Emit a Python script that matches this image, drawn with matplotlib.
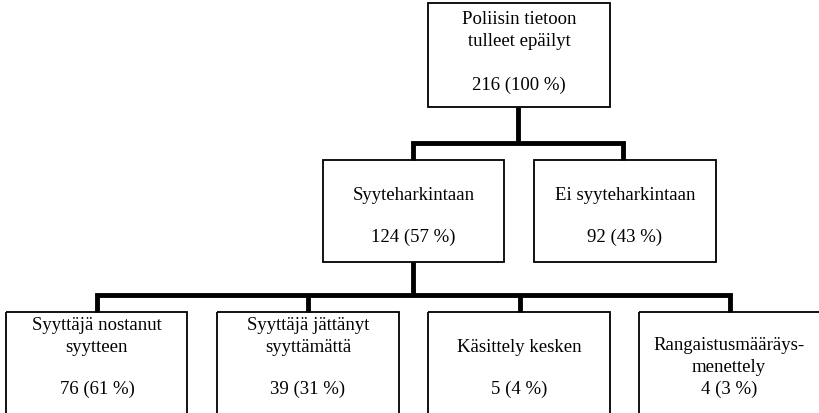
import matplotlib
matplotlib.use("Agg")
import matplotlib.pyplot as plt
from matplotlib.patches import Rectangle

# ---- data ----
root_label = "Poliisin tietoon\ntulleet epäilyt"
root_count = 216
root_pct = 100

level1_labels = ["Syyteharkintaan", "Ei syyteharkintaan"]
level1_counts = [124, 92]
level1_pcts = [57, 43]

level2_labels = ["Syyttäjä nostanut\nsyytteen", "Syyttäjä jättänyt\nsyyttämättä",
                 "Käsittely kesken", "Rangaistusmääräys-\nmenettely"]
level2_counts = [76, 39, 5, 4]
level2_pcts = [61, 31, 4, 3]

# ---- layout ----
W, H = 819, 413
fig = plt.figure(figsize=(W / 100, H / 100), dpi=100)
ax = fig.add_axes([0, 0, 1, 1])
ax.set_xlim(0, W)
ax.set_ylim(H, 0)
ax.axis("off")

FONT = dict(family="Liberation Serif", fontsize=13.5, color="black",
            ha="center", va="center")
BOX_LW = 1.3
CON_LW = 3.5


def box(x0, x1, y0, y1):
    ax.add_patch(Rectangle((x0, y0), x1 - x0, y1 - y0, fill=False,
                           edgecolor="black", lw=BOX_LW, zorder=3))


def seg(xs, ys):
    ax.plot(xs, ys, color="black", lw=CON_LW, solid_capstyle="butt",
            solid_joinstyle="miter", zorder=2)


# root
box(428, 610, 3, 107)
l1, l2 = root_label.split("\n")
ax.text(519, 19, l1, **FONT)
ax.text(519, 42, l2, **FONT)
ax.text(519, 85, f"{root_count} ({root_pct} %)", **FONT)

# level 1
l1_boxes = [(323, 504), (534, 716)]
l1_conn = [413, 623]
seg([518, 518], [107, 143])
seg([l1_conn[0], l1_conn[0], l1_conn[1], l1_conn[1]], [160, 143, 143, 160])
for (x0, x1), lab, c, p in zip(l1_boxes, level1_labels, level1_counts, level1_pcts):
    box(x0, x1, 160, 262)
    cx = (x0 + x1) / 2
    ax.text(cx, 195, lab, **FONT)
    ax.text(cx, 237, f"{c} ({p} %)", **FONT)

# level 2
l2_boxes = [(6, 187), (217, 399), (428, 610), (639, 830)]
l2_centers = [97, 308, 519, 729]
l2_conn = [97, 308, 520, 730]
seg([413, 413], [262, 295])
seg([l2_conn[0], l2_conn[0], l2_conn[-1], l2_conn[-1]], [312, 295, 295, 312])
for xc in l2_conn[1:-1]:
    seg([xc, xc], [295, 312])
for (x0, x1), cx, lab, c, p in zip(l2_boxes, l2_centers, level2_labels,
                                   level2_counts, level2_pcts):
    box(x0, x1, 312, 430)
    lines = lab.split("\n")
    if lab.startswith("Rangaistus"):
        ax.text(cx, 346, lines[0], **FONT)
        ax.text(cx, 367, lines[1], **FONT)
        ax.text(cx, 389, f"{c} ({p} %)", **FONT)
    elif len(lines) == 2:
        ax.text(cx, 325, lines[0], **FONT)
        ax.text(cx, 348, lines[1], **FONT)
        ax.text(cx, 389, f"{c} ({p} %)", **FONT)
    else:
        ax.text(cx, 347, lines[0], **FONT)
        ax.text(cx, 389, f"{c} ({p} %)", **FONT)

fig.savefig("out.png", dpi=100, facecolor="white")
